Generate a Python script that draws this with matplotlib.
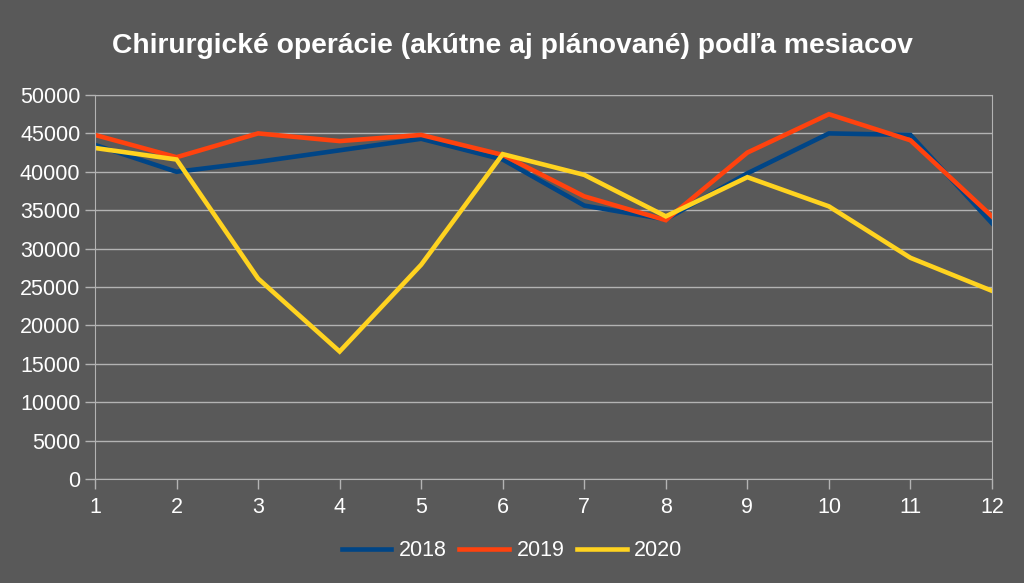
import matplotlib.pyplot as plt

months = [1, 2, 3, 4, 5, 6, 7, 8, 9, 10, 11, 12]
ops_2018 = [43500, 40000, 41300, 42800, 44300, 41600, 35600, 33800, 39800, 45000, 44800, 33300]
ops_2019 = [44800, 41900, 45000, 44000, 44800, 42200, 36800, 33700, 42500, 47500, 44100, 34200]
ops_2020 = [43100, 41600, 26100, 16600, 27900, 42300, 39600, 34200, 39300, 35500, 28800, 24500]

bg = '#595959'
grid_c = '#b3b3b3'
plt.rcParams['font.family'] = ['Liberation Sans', 'DejaVu Sans']

fig = plt.figure(figsize=(10.24, 5.83), dpi=100, facecolor=bg)
ax = fig.add_axes([95/1024, 1 - 479/583, (992 - 95)/1024, (479 - 95)/583])
ax.set_facecolor(bg)

ax.plot(months, ops_2018, color='#004586', lw=3.3, label='2018', solid_joinstyle='miter')
ax.plot(months, ops_2019, color='#ff420e', lw=3.3, label='2019', solid_joinstyle='miter')
ax.plot(months, ops_2020, color='#ffd320', lw=3.3, label='2020', solid_joinstyle='miter')

ax.set_xlim(1, 12)
ax.set_ylim(0, 50000)
ax.set_xticks(months)
ax.set_yticks(range(0, 50001, 5000))
ax.yaxis.grid(True, color=grid_c, lw=1)
ax.set_axisbelow(True)
for s in ax.spines.values():
    s.set_color(grid_c)
ax.tick_params(colors=grid_c, labelcolor='white', labelsize=15.5, length=7, width=1)
ax.tick_params(axis='x', pad=6)

fig.suptitle('Chirurgické operácie (akútne aj plánované) podľa mesiacov',
             color='white', fontsize=20.3, fontweight='bold', y=1 - 46/583, va='center')

leg = fig.legend(loc='center', bbox_to_anchor=(512/1024, 1 - 551/583), ncol=3,
                 frameon=False, fontsize=15.5, handlelength=2.3, columnspacing=0.6,
                 handletextpad=0.35)
for t in leg.get_texts():
    t.set_color('white')

fig.savefig('out.png', dpi=100, facecolor=bg)
